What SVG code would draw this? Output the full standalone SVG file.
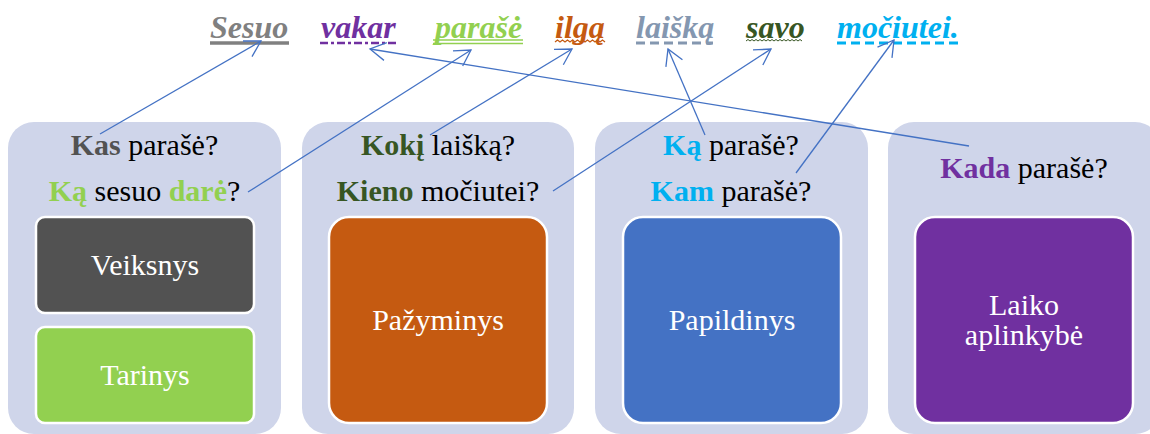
<svg xmlns="http://www.w3.org/2000/svg" width="1150" height="434" viewBox="0 0 1150 434" font-family="'Liberation Serif', 'DejaVu Serif', serif">
<style>
text{font-family:'Liberation Serif','DejaVu Serif',serif}
.w{font-size:32px;font-weight:bold;font-style:italic}
.q{font-size:30px;fill:#000}
.b{font-weight:bold}
.panel{fill:#CFD5EA}
.box{stroke:#fff;stroke-width:2.5}
.lbl{font-size:30px;fill:#fff;text-anchor:middle}
.c{fill:none;stroke:#4472C4;stroke-width:1.3;marker-end:url(#ah)}
</style>
<defs>
<marker id="ah" markerUnits="userSpaceOnUse" markerWidth="22" markerHeight="22" viewBox="-20 -11 22 22" refX="0" refY="0" orient="auto" overflow="visible">
<path d="M-15.6,-9 L0,0 L-15.6,9" fill="none" stroke="#4472C4" stroke-width="1.3"/>
</marker>
</defs>
<g id="sentence">
<text class="w" x="210" y="38" fill="#808080">Sesuo</text>
<line x1="210" y1="43" x2="289" y2="43" stroke="#808080" stroke-width="3.5"/>
<text class="w" x="321" y="38" fill="#7030A0">vakar</text>
<line x1="320" y1="43" x2="396" y2="43" stroke="#7030A0" stroke-width="2.5" stroke-dasharray="8 3 3 3"/>
<text class="w" x="435" y="38" fill="#92D050">parašė</text>
<line x1="433" y1="40" x2="523" y2="40" stroke="#92D050" stroke-width="1.6"/>
<line x1="433" y1="43.5" x2="523" y2="43.5" stroke="#92D050" stroke-width="1.6"/>
<text class="w" x="555" y="38" fill="#C55A11">ilgą</text>
<path d="M555,42 l2.5,-2 l2.5,2 l2.5,-2 l2.5,2 l2.5,-2 l2.5,2 l2.5,-2 l2.5,2 l2.5,-2 l2.5,2 l2.5,-2 l2.5,2 l2.5,-2 l2.5,2 l2.5,-2 l2.5,2 l2.5,-2 l2.5,2 l2.5,-2 l2.5,2" fill="none" stroke="#C55A11" stroke-width="1.3"/>
<text class="w" x="636" y="38" fill="#8497B0">laišką</text>
<line x1="636" y1="43" x2="713" y2="43" stroke="#8497B0" stroke-width="3" stroke-dasharray="9 5"/>
<text class="w" x="746" y="38" fill="#375623">savo</text>
<path d="M746,41 l2,-1.5 l2,1.5 l2,-1.5 l2,1.5 l2,-1.5 l2,1.5 l2,-1.5 l2,1.5 l2,-1.5 l2,1.5 l2,-1.5 l2,1.5 l2,-1.5 l2,1.5 l2,-1.5 l2,1.5 l2,-1.5 l2,1.5 l2,-1.5 l2,1.5 l2,-1.5 l2,1.5 l2,-1.5 l2,1.5 l2,-1.5 l2,1.5 l2,-1.5 l2,1.5" fill="none" stroke="#375623" stroke-width="1"/>
<text class="w" x="837" y="38" fill="#00B0F0">močiutei.</text>
<line x1="837" y1="43" x2="958" y2="43" stroke="#00B0F0" stroke-width="3" stroke-dasharray="9 5"/>
</g>
<g id="panel1">
<rect class="panel" x="8" y="122" width="273" height="312" rx="26"/>
<text class="q" x="144.5" y="155" text-anchor="middle"><tspan class="b" fill="#525252">Kas</tspan> parašė?</text>
<text class="q" x="144.5" y="201" text-anchor="middle"><tspan class="b" fill="#92D050">Ką</tspan> sesuo <tspan class="b" fill="#92D050">darė</tspan>?</text>
</g>
<g id="veiksnys">
<rect class="box" x="36" y="217" width="218" height="96" rx="9" fill="#525252"/>
<text class="lbl" x="145" y="275">Veiksnys</text>
</g>
<g id="tarinys">
<rect class="box" x="36" y="327" width="218" height="96" rx="9" fill="#92D050"/>
<text class="lbl" x="145" y="385">Tarinys</text>
</g>
<g id="panel2">
<rect class="panel" x="302" y="122" width="272" height="312" rx="26"/>
<text class="q" x="438" y="155" text-anchor="middle"><tspan class="b" fill="#375623">Kokį</tspan> laišką?</text>
<text class="q" x="438" y="201" text-anchor="middle"><tspan class="b" fill="#375623">Kieno</tspan> močiutei?</text>
</g>
<g id="pazyminys">
<rect class="box" x="329" y="217" width="218" height="206" rx="20" fill="#C55A11"/>
<text class="lbl" x="438" y="330">Pažyminys</text>
</g>
<g id="panel3">
<rect class="panel" x="595" y="122" width="273" height="312" rx="26"/>
<text class="q" x="731" y="155" text-anchor="middle"><tspan class="b" fill="#00B0F0">Ką</tspan> parašė?</text>
<text class="q" x="731" y="201" text-anchor="middle"><tspan class="b" fill="#00B0F0">Kam</tspan> parašė?</text>
</g>
<g id="papildinys">
<rect class="box" x="623" y="217" width="218" height="206" rx="20" fill="#4472C4"/>
<text class="lbl" x="732" y="330">Papildinys</text>
</g>
<g id="panel4">
<rect class="panel" x="888" y="122" width="273" height="312" rx="26"/>
<text class="q" x="1024" y="178" text-anchor="middle"><tspan class="b" fill="#7030A0">Kada</tspan> parašė?</text>
</g>
<g id="laiko">
<rect class="box" x="915" y="217" width="218" height="206" rx="20" fill="#7030A0"/>
<text class="lbl" x="1024" y="315">Laiko</text>
<text class="lbl" x="1024" y="345">aplinkybė</text>
</g>
<g id="connectors">
<line class="c" x1="100" y1="134" x2="261" y2="41"/>
<line class="c" x1="248" y1="192" x2="471" y2="50"/>
<line class="c" x1="430" y1="135" x2="572" y2="49"/>
<line class="c" x1="553" y1="191" x2="771" y2="49"/>
<line class="c" x1="705" y1="135" x2="668" y2="49"/>
<line class="c" x1="796" y1="173" x2="894" y2="40"/>
<line class="c" x1="969" y1="146" x2="370" y2="49"/>
</g>
</svg>
